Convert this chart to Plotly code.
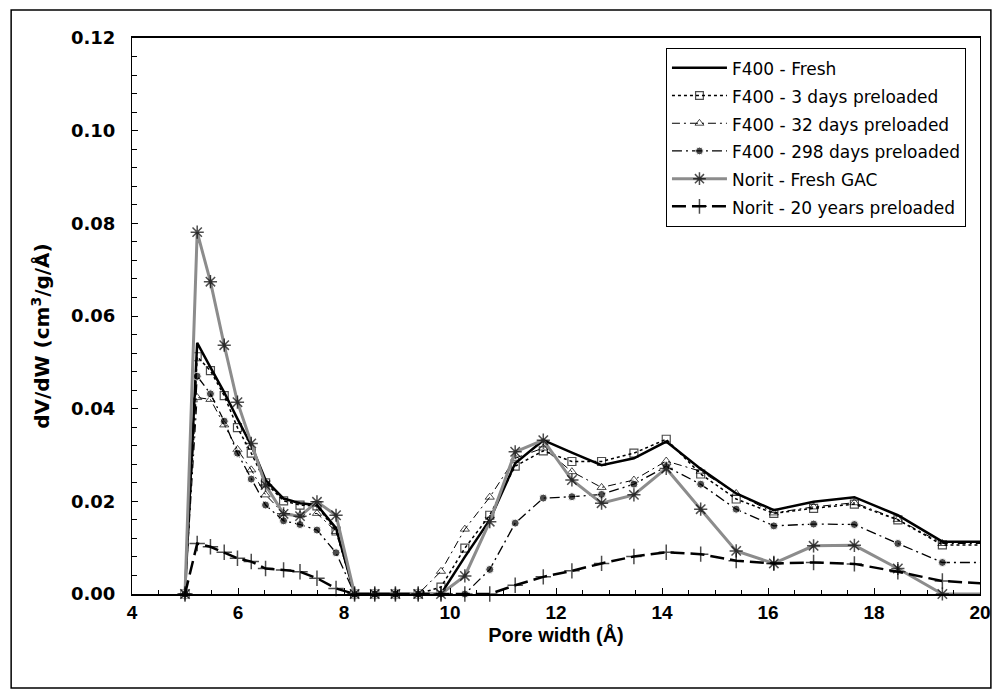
import plotly.graph_objects as go

pore_width = [5.0, 5.23, 5.48, 5.74, 5.99, 6.25, 6.52, 6.86, 7.17, 7.49, 7.85,
              8.2, 8.58, 8.97, 9.4, 9.83, 10.28, 10.75, 11.23, 11.76, 12.3,
              12.86, 13.47, 14.08, 14.73, 15.4, 16.11, 16.86, 17.63, 18.45,
              19.29, 20.2]

f400_fresh = [0, 0.0542, 0.0489, 0.0435, 0.0378, 0.0321, 0.0246, 0.0206, 0.0196, 0.0192, 0.0142,
              0, 0, 0, 0, 0, 0.0080, 0.0160, 0.0282, 0.0332, 0.0305, 0.0278, 0.0293,
              0.0329, 0.0270, 0.0217, 0.0181, 0.0199, 0.0209, 0.0170, 0.0113, 0.0113]
f400_3d = [0, 0.0512, 0.0482, 0.0428, 0.0359, 0.0304, 0.0240, 0.0201, 0.0192, 0.0190, 0.0136,
           0, 0, 0, 0, 0.0015, 0.0099, 0.0170, 0.0276, 0.0309, 0.0286, 0.0286, 0.0304,
           0.0334, 0.0259, 0.0205, 0.0174, 0.0185, 0.0194, 0.0160, 0.0106, 0.0106]
f400_32d = [0, 0.0424, 0.0420, 0.0365, 0.0312, 0.0268, 0.0214, 0.0174, 0.0170, 0.0174, 0.0135,
            0, 0, 0, 0, 0.0049, 0.0140, 0.0209, 0.0293, 0.0315, 0.0264, 0.0230, 0.0246,
            0.0287, 0.0265, 0.0217, 0.0175, 0.0188, 0.0197, 0.0161, 0.0109, 0.0109]
f400_298d = [0, 0.0470, 0.0432, 0.0373, 0.0304, 0.0248, 0.0192, 0.0158, 0.0150, 0.0138, 0.0089,
             0, 0, 0, 0, 0, 0, 0.0053, 0.0153, 0.0207, 0.0210, 0.0215, 0.0237,
             0.0275, 0.0237, 0.0183, 0.0147, 0.0151, 0.0150, 0.0109, 0.0068, 0.0068]
norit_fresh = [0, 0.0781, 0.0674, 0.0537, 0.0414, 0.0325, 0.0235, 0.0173, 0.0168, 0.0199, 0.0170,
               0, 0, 0, 0, 0, 0.0039, 0.0156, 0.0307, 0.0332, 0.0246, 0.0196, 0.0214,
               0.0271, 0.0183, 0.0093, 0.0066, 0.0104, 0.0105, 0.0055, 0, 0]
norit_20y = [0, 0.0109, 0.0102, 0.0090, 0.0077, 0.0070, 0.0055, 0.0052, 0.0048, 0.0034, 0.0012,
             0, 0, 0, 0, 0, 0, 0, 0.0019, 0.0037, 0.0050, 0.0066, 0.0081,
             0.0090, 0.0086, 0.0072, 0.0066, 0.0068, 0.0065, 0.0048, 0.0028, 0.0022]

names = ["F400 - Fresh", "F400 - 3 days preloaded", "F400 - 32 days preloaded",
         "F400 - 298 days preloaded", "Norit - Fresh GAC", "Norit - 20 years preloaded"]

x_title = "Pore width (Å)"
y_title = "dV/dW (cm<sup>3</sup>/g/Å)"

n = len(pore_width)


def sizes(s):
    # hide the marker of the tail point that lies beyond the axis range
    return [s] * (n - 1) + [0]


def lg(name):
    return '<span style="font-size:17px">' + name + "</span>"


fig = go.Figure()
fig.add_trace(go.Scatter(x=pore_width, y=f400_fresh, name=lg(names[0]), mode="lines",
                         line=dict(color="black", width=2.5)))
fig.add_trace(go.Scatter(x=pore_width, y=f400_3d, name=lg(names[1]), mode="lines+markers",
                         line=dict(color="black", width=1.5, dash="dot"),
                         marker=dict(symbol="square-open", size=sizes(8), color="black",
                                     line=dict(width=1.2, color="black"))))
fig.add_trace(go.Scatter(x=pore_width, y=f400_32d, name=lg(names[2]), mode="lines+markers",
                         line=dict(color="black", width=1, dash="8px,4px,2px,4px"),
                         marker=dict(symbol="triangle-up-open", size=sizes(8), color="black",
                                     line=dict(width=1, color="black"))))
fig.add_trace(go.Scatter(x=pore_width, y=f400_298d, name=lg(names[3]), mode="lines+markers",
                         line=dict(color="black", width=1.3, dash="10px,4px,2px,4px"),
                         marker=dict(symbol="circle", size=sizes(8), color="black")))
fig.add_trace(go.Scatter(x=pore_width, y=norit_fresh, name=lg(names[4]), mode="lines+markers",
                         line=dict(color="#8c8c8c", width=3),
                         marker=dict(symbol="asterisk-open", size=sizes(11), color="black",
                                     line=dict(width=1.5, color="black"))))
fig.add_trace(go.Scatter(x=pore_width, y=norit_20y, name=lg(names[5]), mode="lines+markers",
                         line=dict(color="black", width=2.5, dash="14px,6px"),
                         marker=dict(symbol="cross-thin-open", size=sizes(11), color="black",
                                     line=dict(width=1.5, color="black"))))

fig.update_traces(cliponaxis=False)

L, R, T, B = 132, 15, 38, 97
W, H = 1003, 691
pw, ph = W - L - R, H - T - B


def px_x(p):
    return (p - L) / pw


def px_y(p):
    return (H - B - p) / ph


fig.update_layout(
    width=W, height=H,
    margin=dict(l=L, r=R, t=T, b=B, pad=0),
    plot_bgcolor="white", paper_bgcolor="white",
    font=dict(family="Liberation Sans, Arial, sans-serif", color="black"),
    xaxis=dict(range=[4, 20], dtick=2, tick0=4, showline=True, linecolor="black",
               linewidth=1.5, mirror=True, ticks="inside", ticklen=6, tickwidth=1,
               tickcolor="black", showgrid=False, zeroline=False,
               minor=dict(dtick=0.5, ticks="inside", ticklen=4, tickcolor="black", showgrid=False),
               tickfont=dict(size=19, family="Liberation Sans, Arial", weight="bold"),
               title=dict(text=x_title, standoff=6,
                          font=dict(size=20, family="Liberation Sans, Arial", weight="bold"))),
    yaxis=dict(range=[0, 0.12], dtick=0.02, tick0=0, tickformat=".2f", showline=True,
               linecolor="black", linewidth=1.2, mirror=True, ticks="inside", ticklen=6,
               tickwidth=1, tickcolor="black", showgrid=False, zeroline=False,
               ticklabelstandoff=12,
               minor=dict(dtick=0.004, ticks="inside", ticklen=5, tickcolor="black", showgrid=False),
               tickfont=dict(size=18, family="DejaVu Sans", weight="bold")),
    legend=dict(x=px_x(671), y=px_y(48), xanchor="left", yanchor="top",
                bgcolor="white", bordercolor="black", borderwidth=1,
                font=dict(size=19, family="DejaVu Sans"),
                itemwidth=55, tracegroupgap=0),
    annotations=[dict(text=y_title, xref="paper", yref="paper", x=px_x(40), y=px_y(336),
                      xanchor="center", yanchor="middle", textangle=-90, showarrow=False,
                      font=dict(size=20, family="DejaVu Sans", weight="bold"))],
    shapes=[dict(type="rect", xref="paper", yref="paper",
                 x0=px_x(10), x1=px_x(999), y0=px_y(688), y1=px_y(10),
                 line=dict(color="black", width=1.5), layer="below")],
)

fig.write_html("out.html")
